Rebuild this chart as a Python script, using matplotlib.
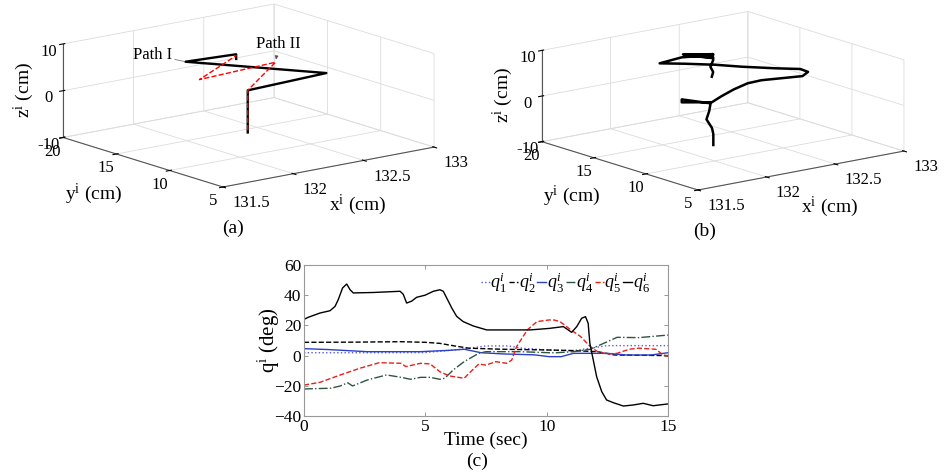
import matplotlib
matplotlib.use('Agg')
import matplotlib.pyplot as plt
import numpy as np
from mpl_toolkits.mplot3d import proj3d

plt.rcParams['font.family'] = ['Liberation Serif', 'DejaVu Serif']
plt.rcParams['mathtext.fontset'] = 'custom'
plt.rcParams['mathtext.rm'] = 'Liberation Serif'
plt.rcParams['mathtext.it'] = 'Liberation Serif:italic'
plt.rcParams['grid.color'] = '#dcdcdc'
plt.rcParams['grid.linewidth'] = 0.6

# ---- panel (a): planned paths (cm)
path1_x = [132.32, 132.32, 132.78, 132.12, 132.45, 132.45]
path1_y = [13.5, 13.5, 12.2, 16.7, 16.3, 16.3]
path1_z = [-9.0, 0.0, 2.0, 5.0, 5.0, 4.0]
path2_x = [132.32, 132.32, 132.51, 132.06, 132.37]
path2_y = [13.5, 13.5, 13.4, 14.6, 15.2]
path2_z = [-8.5, 0.0, 5.0, 3.0, 6.0]

# ---- panel (b): measured path (cm)
meas_x = [132.18, 132.18, 132.17, 132.13, 132.15, 132.16, 131.95, 131.95, 132.17,
          132.24, 132.33, 132.43, 132.53, 132.68, 132.83, 132.87,
          132.87, 132.75, 132.56, 132.42, 132.26, 132.13,
          132.29, 132.52, 132.30, 132.52, 132.32, 132.52, 132.33, 132.52,
          132.52, 132.50, 132.52, 132.51]
meas_y = [12.5, 12.5, 12.5, 12.5, 12.5, 12.5, 12.5, 12.5, 12.5,
          12.5, 12.5, 12.5, 12.5, 12.5, 12.5, 12.5,
          13.25, 14.0, 14.75, 15.5, 16.25, 17.0,
          17.0, 17.0, 17.0, 17.0, 17.0, 17.0, 17.0, 17.0,
          17.0, 17.0, 17.0, 17.0]
meas_z = [-9.3, -6.9, -5.5, -3.4, -1.7, -0.06, 2.0, 1.35, 0.13,
          1.06, 2.04, 2.8, 2.9, 2.5, 2.1, 2.8,
          2.9, 3.2, 4.1, 4.8, 5.4, 5.7,
          6.1, 5.3, 6.7, 4.8, 6.2, 5.5, 6.4, 4.6,
          4.2, 2.8, 1.6, 0.6]

x_ticks = [131.5, 132, 132.5, 133]
x_ticklabels = ['131.5', '132', '132.5', '133']
y_ticks = [5, 10, 15, 20]
z_ticks = [-10, 0, 10]

# ---- panel (c): joint angles (deg)
q1_t = [0, 2.5, 5, 6.5, 7.5, 8.4, 9, 10.1, 11.1, 11.8, 12.5, 15]
q1_v = [1.9, 1.9, 2.0, 4.2, 6.4, 6.4, 4.9, 3.7, 3.3, 4.9, 6.6, 6.6]
q2_t = [0, 2, 4, 5, 5.6, 6.2, 6.8, 8.2, 10.1, 11.1, 12.1, 12.8, 15]
q2_v = [8.8, 8.9, 9.2, 8.8, 8.1, 6.4, 4.9, 4.2, 3.7, 3.3, 2.6, 0.4, 0.0]
q3_t = [0, 1, 2.6, 4.8, 6.0, 6.6, 7.3, 8.2, 9.5, 10.1, 10.6, 11.1, 12.5, 13.3, 14.3, 15]
q3_v = [4.6, 4.0, 2.6, 2.6, 3.5, 4.2, 1.9, 1.1, 0.5, -0.7, -0.7, 1.5, 1.5, 0.4, 0.4, 1.9]
q4_t = [0, 1.1, 1.5, 1.8, 2.0, 2.6, 3.4, 4.0, 4.4, 4.8, 5.2, 5.6, 5.8, 6.15, 6.6,
        7.2, 7.5, 8.9, 10.1, 10.4, 11.1, 11.8, 12.5, 12.9, 13.8, 15]
q4_v = [-22.1, -21.6, -20.1, -18, -20.1, -16.2, -12.8, -14.4, -15.7, -14.4, -14.4,
        -15.7, -15, -9.5, -4, 1.5, 2.6, 2.6, 1.9, 1.9, 2.6, 4.2, 9.2, 12.1, 11.9, 13.6]
q5_t = [0, 0.66, 1.5, 2.3, 3.1, 4.0, 4.2, 4.8, 5.2, 5.6, 6.0, 6.6, 6.8, 7.2, 7.5,
        7.9, 8.35, 8.56, 8.76, 9.2, 9.6, 10.1, 10.3, 10.55, 11.0, 11.4, 11.8, 12.1,
        12.5, 12.9, 13.4, 13.8, 14.5, 14.8, 15]
q5_v = [-19.5, -17.7, -12.8, -8.4, -4.7, -5.1, -7.3, -5.1, -5.5, -10.7, -13.5, -15,
        -11.7, -5.6, -6.3, -4, -5.1, -3, 5.9, 17, 22.5, 23.6, 23.6, 22.5, 17, 12.6,
        5.9, 2.6, 1.1, 1.5, 4.2, 4.9, 4.2, 0.4, -0.3]
q6_t = [0, 0.18, 0.66, 1.07, 1.28, 1.41, 1.59, 1.76, 1.9, 2.03, 2.86, 3.96, 4.09,
        4.23, 4.44, 4.64, 4.99, 5.33, 5.6, 5.74, 6.09, 6.29, 6.56, 6.98, 7.53, 8.9,
        9.31, 10.1, 10.69, 11.03, 11.24, 11.44, 11.6, 11.71, 11.78, 11.92, 12.06,
        12.27, 12.47, 12.75, 13.16, 13.57, 13.98, 14.39, 15]
q6_v = [24, 25.4, 28.2, 29.7, 32.6, 37, 44.8, 47.4, 43.6, 41.5, 41.8, 42.6, 40.6,
        34.8, 36.1, 38.6, 40, 42.6, 43.6, 42.6, 31.5, 26, 22.5, 19.6, 17, 17, 17,
        18, 19.2, 15.4, 19.2, 24.7, 25.8, 21.4, 8.1, -2.9, -14, -23.9, -29.4, -31.2,
        -33.4, -32.7, -31.6, -33.2, -32]

W, H = 945, 473
fig = plt.figure(figsize=(W / 100, H / 100), dpi=100)
fig.patch.set_facecolor('white')

box = (1.0, 0.97, 0.36)


def setup3d(ax):
    ax.set_proj_type('ortho')
    ax.view_init(elev=14, azim=-128)
    ax.set_facecolor('none')
    ax.set_xlim(131.5, 133)
    ax.set_ylim(5, 20)
    ax.set_zlim(-10, 10)
    ax.set_xticks(x_ticks)
    ax.set_xticklabels(x_ticklabels, ha='left')
    ax.set_yticks(y_ticks)
    ax.set_yticklabels([str(v) for v in y_ticks])
    ax.set_zticks(z_ticks)
    ax.set_zticklabels([str(v) for v in z_ticks])
    for axis in (ax.xaxis, ax.yaxis, ax.zaxis):
        axis.set_pane_color((1, 1, 1, 0))
        axis.pane.set_edgecolor('#dcdcdc')
        axis.line.set_color('#555555')
        axis.line.set_linewidth(0.8)
        axis.set_rotate_label(False)
    ax.tick_params(labelsize=12)
    ax.xaxis.set_tick_params(pad=-2)
    ax.yaxis.set_tick_params(pad=-3)
    ax.zaxis.set_tick_params(pad=-4)
    # trailing spaces pull the visible label a little left, as in the original
    ax.set_xlabel(r'x$^{\rm i}$ (cm)      ', fontsize=14, rotation=0, labelpad=6)
    ax.set_ylabel(r'y$^{\rm i}$ (cm)', fontsize=14, rotation=0, labelpad=3)
    ax.set_zlabel(r'z$^{\rm i}$ (cm)', fontsize=14, rotation=90, labelpad=-10)
    ax.set_box_aspect(box)


def to_disp(ax, x, y, z):
    px, py, _ = proj3d.proj_transform(x, y, z, ax.get_proj())
    return ax.transData.transform((px, py))


def fit3d(ax, corner, span):
    # scale and move the 3d box so its corners land where the original has them
    zoom = 1.0
    for _ in range(3):
        fig.canvas.draw()
        left = to_disp(ax, 131.5, 20, -10)
        right = to_disp(ax, 133, 5, -10)
        zoom *= span / (right[0] - left[0])
        ax.set_box_aspect(box, zoom=zoom)
    for _ in range(2):
        fig.canvas.draw()
        c = to_disp(ax, 131.5, 5, -10)
        dx = (corner[0] - c[0]) / W
        dy = ((H - corner[1]) - c[1]) / H
        p = ax.get_position(original=True)
        ax.set_position([p.x0 + dx, p.y0 + dy, p.width, p.height])


ax1 = fig.add_axes([0.0, 0.42, 0.5, 0.58], projection='3d')
setup3d(ax1)
ax1.plot(path1_x, path1_y, path1_z, color='black', lw=1.7)
ax1.plot(path2_x, path2_y, path2_z, color='red', lw=1.0, ls='--')

ax2 = fig.add_axes([0.5, 0.42, 0.5, 0.58], projection='3d')
setup3d(ax2)
ax2.plot(meas_x, meas_y, meas_z, color='black', lw=1.8)

fit3d(ax1, (223, 187), 371)
fit3d(ax2, (698, 190), 362)

fig.canvas.draw()
p1 = to_disp(ax1, path1_x[3], path1_y[3], path1_z[3])
p2 = to_disp(ax1, path2_x[2], path2_y[2], path2_z[2])
fig.add_artist(matplotlib.text.Annotation(
    'Path I', xy=p1, xycoords='figure pixels', xytext=(-33, 7),
    textcoords='offset pixels', ha='center', va='center', fontsize=12,
    arrowprops=dict(arrowstyle='-', color='#777777', lw=0.6, shrinkA=0, shrinkB=1)))
fig.add_artist(matplotlib.text.Annotation(
    'Path II', xy=p2, xycoords='figure pixels', xytext=(3, 18),
    textcoords='offset pixels', ha='center', va='center', fontsize=12,
    arrowprops=dict(arrowstyle='-|>', mutation_scale=5, color='#555555', lw=0.6,
                    shrinkA=2, shrinkB=2)))

# ---- panel (c)
ax3 = fig.add_axes([304 / W, 1 - 416 / H, 364 / W, 151 / H])
ax3.plot(q1_t, q1_v, color='#5a5adc', lw=1.0, ls=':', label=r'$q_1^i$')
ax3.plot(q2_t, q2_v, color='black', lw=1.0, ls='--', label=r'$q_2^i$')
ax3.plot(q3_t, q3_v, color='#2b3fc8', lw=1.0, ls='-', label=r'$q_3^i$')
ax3.plot(q4_t, q4_v, color='#2e5540', lw=1.0, ls='-.', label=r'$q_4^i$')
ax3.plot(q5_t, q5_v, color='#e8201c', lw=1.0, ls='--', label=r'$q_5^i$')
ax3.plot(q6_t, q6_v, color='black', lw=1.0, ls='-', label=r'$q_6^i$')
ax3.set_xlim(0, 15)
ax3.set_ylim(-40, 60)
ax3.set_xticks([0, 5, 10, 15])
ax3.set_yticks([-40, -20, 0, 20, 40, 60])
ax3.tick_params(direction='in', top=True, right=True, length=3, width=0.6,
                labelsize=12.5, pad=2, color='#888888')
for s in ax3.spines.values():
    s.set_color('#999999')
    s.set_linewidth(0.8)
ax3.set_xlabel('Time (sec)', fontsize=14, labelpad=-2)
ax3.set_ylabel(r'q$^{\rm i}$ (deg)', fontsize=15, labelpad=-6)
ax3.legend(loc='upper right', bbox_to_anchor=(0.965, 1.0), ncol=6, frameon=False,
           fontsize=13, handlelength=0.5, handletextpad=0.05, columnspacing=0.1,
           borderaxespad=0.1, borderpad=0.2)

fig.text(233 / W, 1 - 228 / H, '(a)', ha='center', va='center', fontsize=14)
fig.text(705 / W, 1 - 231 / H, '(b)', ha='center', va='center', fontsize=14)
fig.text(477 / W, 1 - 461 / H, '(c)', ha='center', va='center', fontsize=14)

fig.savefig('out.png', dpi=100, facecolor='white')
